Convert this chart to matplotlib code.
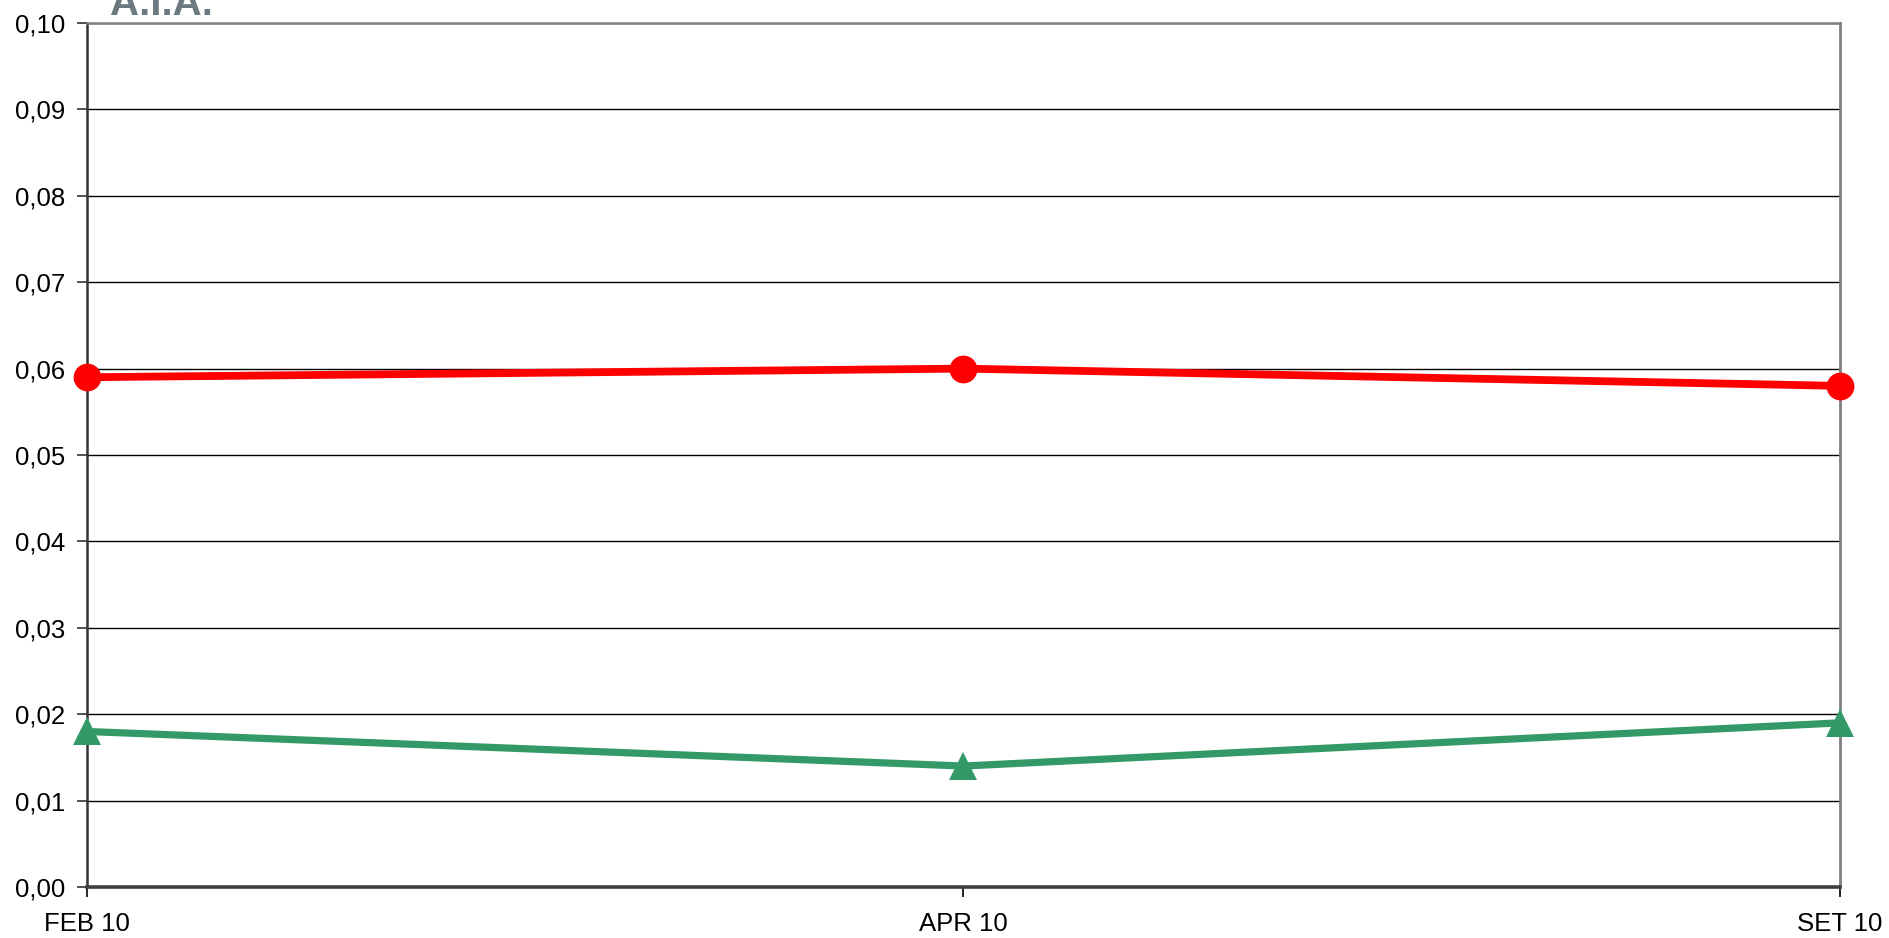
import matplotlib
matplotlib.use("Agg")
import matplotlib.pyplot as plt
from matplotlib.ticker import FixedLocator, FuncFormatter

plt.rcParams["font.family"] = ["Liberation Sans", "DejaVu Sans"]

# data
categories = ["FEB 10", "APR 10", "SET 10"]
red_values = [0.059, 0.060, 0.058]
green_values = [0.018, 0.014, 0.019]
y_ticks = [i / 100 for i in range(11)]

W, H = 1890, 938
fig = plt.figure(figsize=(W / 100, H / 100), dpi=100)
ax = fig.add_axes([87 / W, 1 - 887 / H, (1840 - 87) / W, (887 - 23) / H])

x = list(range(len(categories)))
ax.plot(x, green_values, color="#339966", lw=5.2, marker="^", ms=20,
        markeredgewidth=0, zorder=3, clip_on=False)
ax.plot(x, red_values, color="#ff0000", lw=5.6, marker="o", ms=20,
        markeredgewidth=0, zorder=4, clip_on=False)

ax.set_xlim(0, len(categories) - 1)
ax.set_ylim(0, 0.10)
ax.yaxis.set_major_locator(FixedLocator(y_ticks))
ax.yaxis.set_major_formatter(FuncFormatter(lambda v, p: f"{v:.2f}".replace(".", ",")))
ax.set_xticks(x)
ax.set_xticklabels(categories)

ax.grid(axis="y", color="#000000", lw=1.0, zorder=1)
ax.set_axisbelow(True)

ax.tick_params(axis="y", direction="out", length=7, width=1.2, color="#333333",
               labelsize=18.5, pad=9)
ax.tick_params(axis="x", direction="out", length=7, width=1.2, color="#000000",
               labelsize=18.5, pad=11)

ax.spines["left"].set_color("#333333")
ax.spines["left"].set_linewidth(1.8)
ax.spines["bottom"].set_color("#404040")
ax.spines["bottom"].set_linewidth(2.6)
ax.spines["top"].set_color("#808080")
ax.spines["top"].set_linewidth(1.8)
ax.spines["right"].set_color("#808080")
ax.spines["right"].set_linewidth(2.0)

# logo text cut off at the top edge, as in the reference
fig.text(110 / W, 1 - 15 / H, "A.I.A.", color="#6b7a80", fontsize=29,
         fontweight="bold", ha="left", va="baseline")

fig.savefig("out.png", dpi=100, facecolor="white")
